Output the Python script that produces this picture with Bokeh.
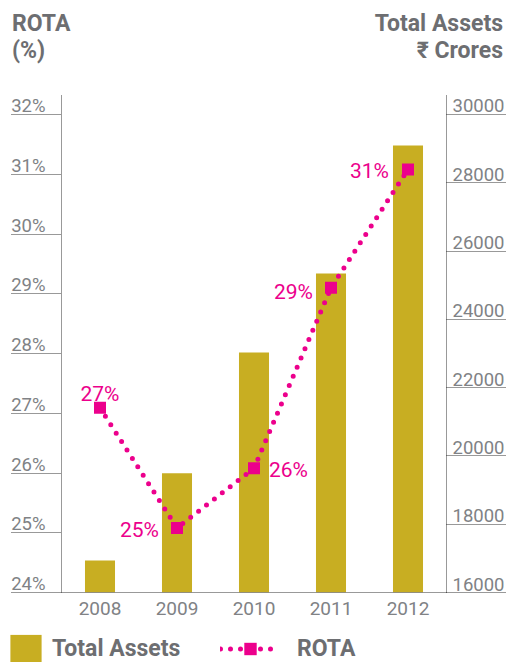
from bokeh.plotting import figure
from bokeh.layouts import column
from bokeh.models import (ColumnDataSource, FactorRange, Range1d, LinearAxis, FixedTicker,
                          Legend, LegendItem, CustomJSTickFormatter, Div)
from bokeh.core.properties import value
from bokeh.embed import file_html
from bokeh.resources import INLINE

# ---------------- data ----------------
years = ["2008", "2009", "2010", "2011", "2012"]
total_assets = [16940, 19490, 23030, 25340, 29090]
rota = [27.09, 25.08, 26.08, 29.10, 31.08]
rota_labels = ["27%", "25%", "26%", "29%", "31%"]
rota_ticks = [24, 25, 26, 27, 28, 29, 30, 31, 32]
rota_tick_labels = ["24%", "25%", "26%", "27%", "28%", "29%", "30%", "31%", "32%"]
asset_ticks = [16000, 18000, 20000, 22000, 24000, 26000, 28000, 30000]
asset_tick_labels = ["16000", "18000", "20000", "22000", "24000", "26000", "28000", "30000"]
left_title = ["ROTA", "(%)"]
right_title = ["Total Assets", "\u20b9 Crores"]

# ---------------- style ----------------
GOLD = "#C8AE22"
MAGENTA = "#EC008C"
GRAY = "#6D6E71"
TICK_GRAY = "#808285"
AXIS = "#333333"
FONT = "Roboto"

W = 508
HEAD_H, MAIN_H, FOOT_H = 65, 563, 34
FL, FR, FT, FB = 61, 446, 95, 592          # frame edges in page pixels
ROTA_END = 32.318
ASSET_END = 30556
LBL_SHIFT_PX = 8.5                         # tick labels sit above their dotted tick lines
rota_shift = LBL_SHIFT_PX * (ROTA_END - 24) / (FB - FT)
asset_shift = LBL_SHIFT_PX * (ASSET_END - 16000) / (FB - FT)

common = dict(output_backend="svg", toolbar_location=None, title=None)

# ---------------- header (axis titles) ----------------
def span(txt, side, top):
    return (f'<span style="position:absolute;display:block;height:23px;line-height:23px;'
            f'{side}:{"12" if side == "left" else "5"}px;top:{top}px;white-space:nowrap;">'
            f'{txt}</span>')

head_html = (
    f'<div style="position:relative;width:{W}px;height:{HEAD_H}px;font-family:{FONT};'
    f'font-weight:bold;font-size:23px;color:{GRAY};">'
    + span(left_title[0], "left", 12.0) + span(left_title[1], "left", 39.2)
    + span(right_title[0], "right", 12.0) + span(right_title[1], "right", 39.2)
    + '</div>'
)
head = Div(text=head_html, width=W, height=HEAD_H, margin=0)

# ---------------- main chart ----------------
p = figure(width=W, height=MAIN_H, x_range=FactorRange(*years), y_range=Range1d(24, ROTA_END),
           min_border_left=FL, min_border_right=W - FR, min_border_top=FT - HEAD_H,
           min_border_bottom=HEAD_H + MAIN_H - FB, **common)
p.extra_y_ranges = {
    "assets": Range1d(16000, ASSET_END),
    "rota_lbl": Range1d(24 - rota_shift, ROTA_END - rota_shift),
    "assets_lbl": Range1d(16000 - asset_shift, ASSET_END - asset_shift),
}
p.outline_line_color = None
p.xgrid.grid_line_color = None
p.ygrid.grid_line_color = None

blank = CustomJSTickFormatter(code="return ''")

def tick_axis(ax, ticks, length):
    ax.ticker = FixedTicker(ticks=ticks)
    ax.formatter = blank
    ax.axis_line_dash = "1 1"
    ax.axis_line_color = AXIS
    ax.major_tick_in = 0
    ax.major_tick_out = length
    ax.major_tick_line_dash = "1 1"
    ax.major_tick_line_color = AXIS
    ax.minor_tick_line_color = None
    ax.major_label_standoff = 0

def label_axis(ax, ticks, labels, standoff):
    ax.ticker = FixedTicker(ticks=ticks)
    ax.major_label_overrides = dict(zip(ticks, labels))
    ax.axis_line_color = None
    ax.major_tick_line_color = None
    ax.minor_tick_line_color = None
    ax.major_tick_in = 0
    ax.major_tick_out = 0
    ax.major_label_standoff = standoff
    ax.major_label_text_font = FONT
    ax.major_label_text_font_size = "18.5px"
    ax.major_label_text_color = TICK_GRAY

# left: dotted ticks next to the frame, labels laid over them
tick_axis(p.yaxis[0], rota_ticks, FL - 11)
left_lbl = LinearAxis(y_range_name="rota_lbl")
label_axis(left_lbl, rota_ticks, rota_tick_labels, -34)
p.add_layout(left_lbl, "left")

# right
right_ticks = LinearAxis(y_range_name="assets")
tick_axis(right_ticks, asset_ticks, 59)
p.add_layout(right_ticks, "right")
right_lbl = LinearAxis(y_range_name="assets_lbl")
label_axis(right_lbl, asset_ticks, asset_tick_labels, -53)
p.add_layout(right_lbl, "right")

# bottom (years)
xa = p.xaxis[0]
xa.axis_line_dash = "1 1"
xa.axis_line_color = AXIS
xa.major_tick_line_color = None
xa.major_tick_out = 0
xa.minor_tick_line_color = None
xa.major_label_standoff = 9
xa.major_label_text_font = FONT
xa.major_label_text_font_size = "19px"
xa.major_label_text_color = TICK_GRAY

src = ColumnDataSource(dict(year=years, assets=total_assets, rota=rota))
bar_kw = dict(x="year", top="assets", bottom=asset_ticks[0], width=0.39, source=src,
              fill_color=GOLD, line_color=None)
line_kw = dict(x="year", y="rota", source=src, line_color=MAGENTA, line_width=5,
               line_dash="0 10", line_cap="round")
sq_kw = dict(x="year", y="rota", source=src, marker="square", size=12,
             fill_color=MAGENTA, line_color=None)
p.vbar(y_range_name="assets", **bar_kw)
p.line(**line_kw)
p.scatter(**sq_kw)

# value labels on the ROTA line
label_align = ["center", "right", "left", "right", "right"]
label_base = ["alphabetic", "middle", "middle", "middle", "middle"]
label_dx = [0, -18, 15, -18, -19]
label_dy = [-14, 2, 2, 4, 2]
lab_src = ColumnDataSource(dict(year=years, rota=rota, label=rota_labels, align=label_align,
                                base=label_base, dx=label_dx, dy=label_dy))
p.text(x="year", y="rota", text="label", source=lab_src, text_align="align",
       text_baseline="base", x_offset="dx", y_offset="dy", text_font=value(FONT),
       text_font_size="21px", text_color=MAGENTA)

# ---------------- footer (legend) ----------------
foot = figure(width=W, height=FOOT_H, x_range=FactorRange(*years), y_range=Range1d(0, 1),
              x_axis_location=None, y_axis_location=None, min_border=0, **common)
foot.outline_line_color = None
foot.grid.visible = False
# hidden legend proxies sharing the chart data
lb = foot.vbar(**bar_kw)
ll = foot.line(**line_kw)
ls = foot.scatter(**sq_kw)
for r in (lb, ll, ls):
    r.visible = False

leg_common = dict(orientation="horizontal", padding=0, margin=0, border_line_alpha=0,
                  background_fill_alpha=0, label_text_font=FONT,
                  label_text_font_style="bold", label_text_font_size="23px",
                  label_text_color=GRAY)
foot.add_layout(Legend(items=[LegendItem(label="Total Assets", renderers=[lb])],
                       location=(6, -3), glyph_width=39, glyph_height=34, label_standoff=7,
                       **leg_common))
foot.add_layout(Legend(items=[LegendItem(label="ROTA", renderers=[ll, ls])],
                       location=(220, -1.5), glyph_width=60, glyph_height=31,
                       label_standoff=17, **leg_common))

page = column(head, p, column(foot, spacing=0), spacing=0)
open("out.html", "w").write(file_html(page, INLINE))
